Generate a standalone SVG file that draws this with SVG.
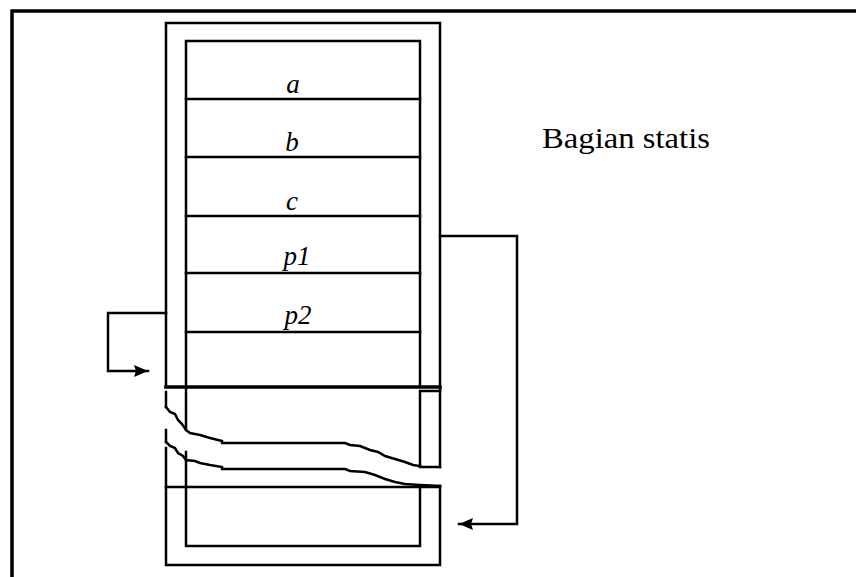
<svg xmlns="http://www.w3.org/2000/svg" width="856" height="577" viewBox="0 0 856 577">
  <style>
    .ln { fill: none; stroke: #000; stroke-width: 2.5; stroke-linecap: square; }
    .thick { stroke-width: 3.5; }
    .lbl { font-family: 'Liberation Serif', serif; font-style: italic; font-size: 27px; fill: #000; text-anchor: middle; }
    .cap { font-family: 'Liberation Serif', serif; font-size: 29px; fill: #000; }
  </style>
  <defs>
    <marker id="arr" viewBox="0 0 14 12" refX="14" refY="6" markerWidth="14" markerHeight="12" markerUnits="userSpaceOnUse" orient="auto">
      <path d="M0,0 L14,6 L0,12 L2,6 Z" fill="#000"/>
    </marker>
  </defs>
  <rect width="856" height="577" fill="#fff"/>

  <!-- page frame (top and left edges) -->
  <g id="frame">
    <path class="ln thick" d="M12,577 L12,11 L856,11"/>
  </g>

  <!-- memory block with static rows and the broken heap area -->
  <g id="memory">
    <!-- outer wall -->
    <path class="ln" d="M166,387 L166,23 L440,23 L440,467"/>
    <path class="ln" d="M166,392 L166,407"/>
    <path class="ln" d="M166,430 L166,442"/>
    <path class="ln" d="M166,448 L166,565 L440,565 L440,486"/>
    <!-- inner wall -->
    <path class="ln" d="M186,430 L186,41 L420,41 L420,387"/>
    <path class="ln" d="M186,452 L186,546 L420,546 L420,487"/>
    <!-- row separators -->
    <path class="ln" d="M186,99 H420 M186,157 H420 M186,216 H420 M186,273 H420 M186,332 H420"/>
    <path class="ln thick" d="M166,387 H440"/>
    <!-- small column beside the gap -->
    <path class="ln" d="M420,391 H440 M420,391 V467 H440"/>
    <!-- torn edges -->
    <path class="ln" d="M166,407 L170,412 L175,414 L178,420 L182,424 L186,430 L190,433 L200,435 L210,438 L222,441 L222,443 L345,443 L350,445 L360,446 L370,450 L378,452 L385,456 L395,459 L405,462 L413,465 L420,466"/>
    <path class="ln" d="M166,442 L170,446 L175,448 L178,453 L183,456 L186,460 L195,461 L200,463 L210,465 L222,467 L222,469 L345,469 L350,471 L365,472 L375,475 L385,479 L395,482 L405,484 L420,485 L440,486"/>
    <path class="ln" d="M166,487 H440"/>
  </g>

  <g id="row-a"><text class="lbl" x="293" y="93">a</text></g>
  <g id="row-b"><text class="lbl" x="292" y="151">b</text></g>
  <g id="row-c"><text class="lbl" x="292" y="210">c</text></g>
  <g id="row-p1"><text class="lbl" x="297" y="265">p1</text></g>
  <g id="row-p2"><text class="lbl" x="298" y="324">p2</text></g>

  <g id="static-label">
    <text class="cap" x="542" y="148" textLength="168" lengthAdjust="spacingAndGlyphs">Bagian statis</text>
  </g>

  <!-- pointer connectors -->
  <g id="connectors">
    <path class="ln" d="M166,313 H108 V371 H148" marker-end="url(#arr)"/>
    <path class="ln" d="M440,236 H517 V524 H459" marker-end="url(#arr)"/>
  </g>
</svg>
